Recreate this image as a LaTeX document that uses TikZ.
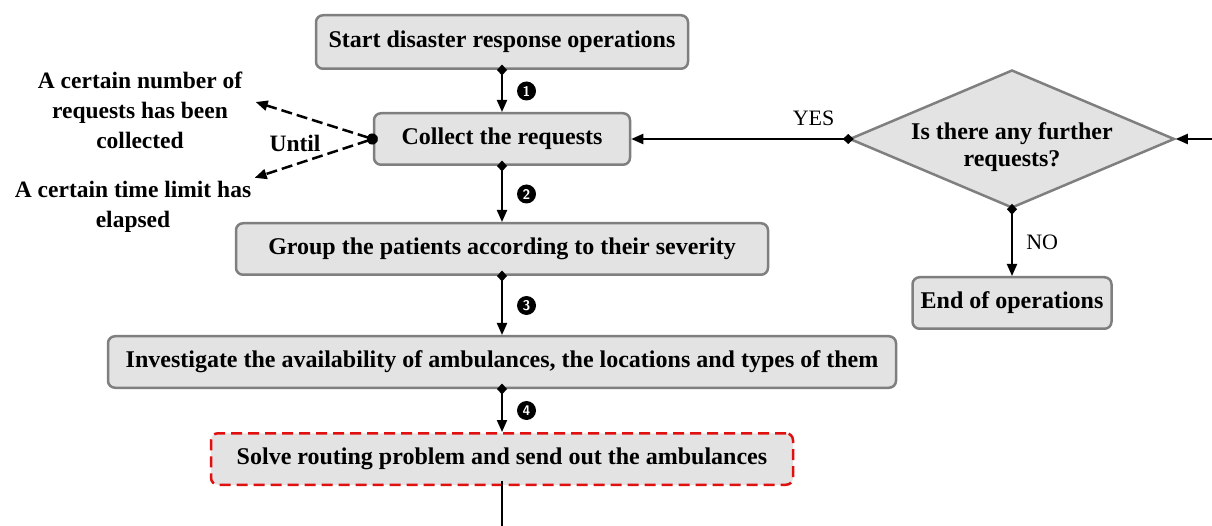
\documentclass[tikz,border=0pt]{standalone}
\usepackage{fontspec}
\setmainfont{Liberation Serif}
\usetikzlibrary{shapes.geometric, positioning, arrows.meta}
\definecolor{boxfill}{HTML}{E3E3E3}
\definecolor{boxline}{HTML}{7F7F7F}
\definecolor{solvered}{HTML}{E01010}
\tikzset{
>={Triangle[length=12pt,width=10pt]}, % filled heads as in the chart
node distance=43pt, % gap between two boxes of the chain
stepbox/.style={draw=boxline, fill=boxfill, line width=2.5pt, rounded corners=7pt,
  minimum height=51.5pt, font=\fontsize{24}{27}\selectfont\bfseries}, % every process box
decision/.style={diamond, draw=boxline, fill=boxfill, line width=2.5pt, aspect=2.36,
  inner xsep=-20pt, inner ysep=-15pt, minimum width=325pt, minimum height=138pt, align=center,
  text height=60pt, font=\fontsize{24}{27}\selectfont\bfseries}, % text sits a little low
flow/.style={draw, line width=2pt, {Diamond[length=11pt,width=10pt]}->, shorten <=-5.5pt}, % diamond tail, triangle head
badge/.style={circle, fill=black, text=white, inner sep=0pt, minimum size=19pt,
  font=\sffamily\bfseries\fontsize{14}{14}\selectfont},
until/.style={draw, line width=2.5pt, dash pattern=on 11pt off 5pt,
  {Circle[length=11pt]}->, shorten <=-5pt},
note/.style={align=center, font=\fontsize{23.5}{30}\selectfont\bfseries},
tag/.style={font=\fontsize{22}{24}\selectfont},
}
\begin{document}
\begin{tikzpicture}[x=1pt, y=1pt]
\useasboundingbox (0,0) rectangle (1212,-526);
\node[stepbox, minimum width=372pt, minimum height=53.5pt] (start) at (502,-42) {Start disaster response operations};
\node[stepbox, minimum width=256pt, below=42pt of start] (collect) {Collect the requests};
\node[stepbox, minimum width=532pt, below=56pt of collect] (group) {Group the patients according to their severity};
\node[stepbox, minimum width=788pt, below=59pt of group] (invest) {Investigate the availability of ambulances, the locations and types of them};
\node[stepbox, minimum width=582pt, draw=solvered, dash pattern=on 11pt off 6pt, below=of invest] (solve) {Solve routing problem and send out the ambulances};
\node[decision] (further) at (1012,-139) {Is there any further\\requests?};
\node[stepbox, minimum width=199pt] (finish) at (1012,-303) {End of operations};
\node[note] (reqtxt) at (140,-110) {A certain number of\\requests has been\\collected};
\node[note] (limtxt) at (133,-207) {A certain time limit has\\elapsed};
\node[note] (untiltxt) at (295,-143) {Until};
\coordinate (feed) at (1212,-139);
\coordinate (onward) at (solve.south |- 0,-526);

\draw[flow] (start) -- node[badge, right=14pt] {1} (collect);
\draw[flow] (collect) -- node[badge, right=14pt] {2} (group);
\draw[flow] (group) -- node[badge, right=14pt] {3} (invest);
\draw[flow] (invest) -- node[badge, right=14pt] {4} (solve);
\draw[flow, -] (solve.south) -- (onward);
\draw[flow] (further.west) -- node[tag, above=9pt, pos=0.16] {YES} (further.west -| collect.east);
\draw[flow] (further.south) -- node[tag, right=10pt] {NO} (finish.north);
\draw[line width=2pt, ->] (feed) -- (further.east);
\draw[until] (collect.west) -- ([shift={(10pt,8pt)}]reqtxt.east);
\draw[until] (collect.west) -- (limtxt.north east);
\end{tikzpicture}
\end{document}
